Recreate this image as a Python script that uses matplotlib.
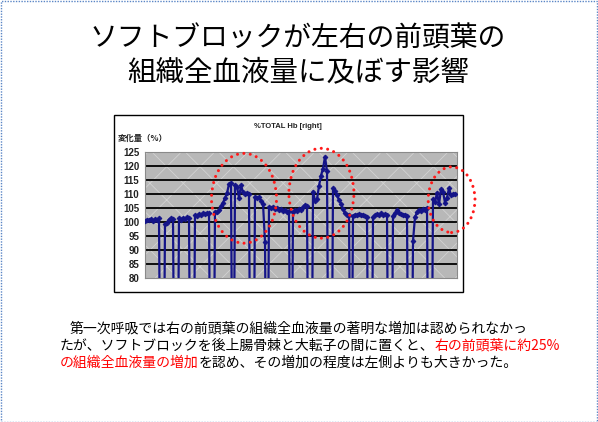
import matplotlib
matplotlib.use("Agg")
import matplotlib.pyplot as plt
from matplotlib.patches import Rectangle, Ellipse

plt.rcParams['font.family'] = ['Noto Sans CJK JP', 'DejaVu Sans']
plt.rcParams['hatch.linewidth'] = 0.6

W, H = 598, 422

# ---------------- data ----------------
title_lines = ["ソフトブロックが左右の前頭葉の", "組織全血液量に及ぼす影響"]
chart_title = "%TOTAL Hb [right]"
y_label = "変化量（%）"
y_ticks = [80, 85, 90, 95, 100, 105, 110, 115, 120, 125]

# %TOTAL Hb (right) samples; 0 = signal drop-out
hb_right = [
    100.3, 100.8, 100.5, 101.0, 100.4, 100.9, 100.6, 101.2, 0, 0,
    99.4, 99.6, 100.8, 101.3, 101.0, 0, 0, 101.2, 100.8, 101.4,
    101.0, 101.6, 101.2, 0, 0, 102.4, 102.2, 102.8, 102.6, 103.0,
    102.8, 103.2, 103.0, 0, 0, 103.6, 103.4, 104.2, 105.5, 106.8,
    108.5, 110.2, 113.5, 114.0, 0, 113.2, 112.5, 108.5, 113.0, 110.5,
    110.0, 110.4, 109.8, 0, 0, 109.0, 108.4, 108.8, 107.5, 106.5,
    93.0, 0, 105.2, 104.8, 105.4, 104.6, 105.0, 104.2, 104.6, 103.8,
    104.2, 103.4, 103.8, 0, 103.6, 104.2, 104.0, 104.6, 104.4, 105.2,
    106.0, 105.6, 0, 0, 110.8, 107.6, 108.0, 112.8, 116.5, 119.0,
    123.2, 118.0, 0, 0, 112.0, 111.0, 109.5, 107.8, 106.5, 104.5,
    103.0, 102.4, 102.6, 0, 102.2, 102.6, 102.4, 102.8, 102.4, 102.6,
    102.2, 101.8, 0, 0, 101.6, 102.4, 102.8, 102.6, 103.0, 102.6,
    102.8, 102.4, 0, 0, 102.2, 103.0, 104.2, 103.2, 102.8, 102.4,
    102.6, 102.2, 0, 0, 93.2, 101.8, 103.4, 104.4, 103.8, 104.6,
    104.2, 105.0, 0, 0, 108.2, 107.0, 110.4, 106.2, 111.6, 110.8,
    106.8, 108.6, 112.0, 109.4, 109.8, 110.0,
]
samples = list(range(len(hb_right)))

# highlighted regions (sample centre, value centre, full width in samples, full height in %)
hl_x = [49.5, 88.2, 153.3]
hl_y = [108.4, 110.2, 107.9]
hl_w = [32.5, 32.5, 23.4]
hl_h = [32.0, 32.0, 23.4]

body_lines = [
    [("第一次呼吸では右の前頭葉の組織全血液量の著明な増加は認められなかっ", "black")],
    [("たが、ソフトブロックを後上腸骨棘と大転子の間に置くと、", "black"),
     ("右の前頭葉に約25%", "#ff0000")],
    [("の組織全血液量の増加", "#ff0000"),
     ("を認め、その増加の程度は左側よりも大きかった。", "black")],
]


def fx(x):
    return x / W


def fy(y):
    return 1 - y / H


fig = plt.figure(figsize=(W / 100, H / 100), dpi=100)
fig.patch.set_facecolor("white")

# slide border
fig.patches.append(Rectangle((0.001, 0.001), 0.997, 0.997, transform=fig.transFigure,
                             fill=False, ec="#5b86c6", lw=1.0, ls=(0, (1, 1)), zorder=-2))

# title
fig.text(fx(298), fy(39), title_lines[0], ha="center", va="center", fontsize=20, color="black")
fig.text(fx(298), fy(72), title_lines[1], ha="center", va="center", fontsize=20.5, color="black")

# chart frame
fig.patches.append(Rectangle((fx(114), fy(291.5)), fx(463) - fx(114), fy(115) - fy(291.5),
                             transform=fig.transFigure, fc="white", ec="black", lw=1.0, zorder=-1))

ax = fig.add_axes([fx(145), fy(278), fx(457) - fx(145), fy(151.7) - fy(278)])
ax.set_facecolor("#b8b8b8")
ax.add_patch(Rectangle((0, 0), 1, 1, transform=ax.transAxes, fc="none", ec="#d2d2d2",
                       hatch="x", lw=0, zorder=0))
ax.set_xlim(0, 156)
ax.set_ylim(80, 125)
ax.set_yticks(y_ticks)
ax.set_yticklabels([str(t) for t in y_ticks], fontsize=7, family="Liberation Sans",
                   fontweight="bold", color="#222222")
ax.set_xticks([])
ax.tick_params(axis="y", length=0, pad=4)
for s in ax.spines.values():
    s.set_color("#8a8a8a")
    s.set_linewidth(0.8)
for t in y_ticks[1:-1]:
    ax.axhline(t, color="black", lw=1.3, zorder=1)

ax.plot(samples, hb_right, color="#141488", lw=1.6, marker="D", markersize=2.4,
        markeredgewidth=0.7, zorder=3)

for cx, cy, w, h in zip(hl_x, hl_y, hl_w, hl_h):
    ax.add_patch(Ellipse((cx, cy), w, h, fill=False, ec="#ff1a1a", lw=2.2,
                         ls=(0, (0.01, 2.1)), capstyle="round", clip_on=False, zorder=5))

fig.text(fx(288), fy(127), chart_title, ha="center", va="center", fontsize=5.5,
         family="Liberation Sans", fontweight="bold", color="#222222")
fig.text(fx(118), fy(138), y_label, ha="left", va="center", fontsize=6, fontweight="bold",
         color="#222222")

# body text (coloured pieces chained one after another)
starts = [70, 60, 60]
ys = [328, 346, 363]
for parts, x0, y0 in zip(body_lines, starts, ys):
    last = None
    for txt, col in parts:
        if last is None:
            last = fig.text(fx(x0), fy(y0), txt, ha="left", va="center", fontsize=10, color=col)
        else:
            last = ax.annotate(txt, xy=(1, 0.5), xycoords=last, va="center", ha="left",
                               fontsize=10, color=col, annotation_clip=False)

fig.savefig("out.png", dpi=100, facecolor="white")
